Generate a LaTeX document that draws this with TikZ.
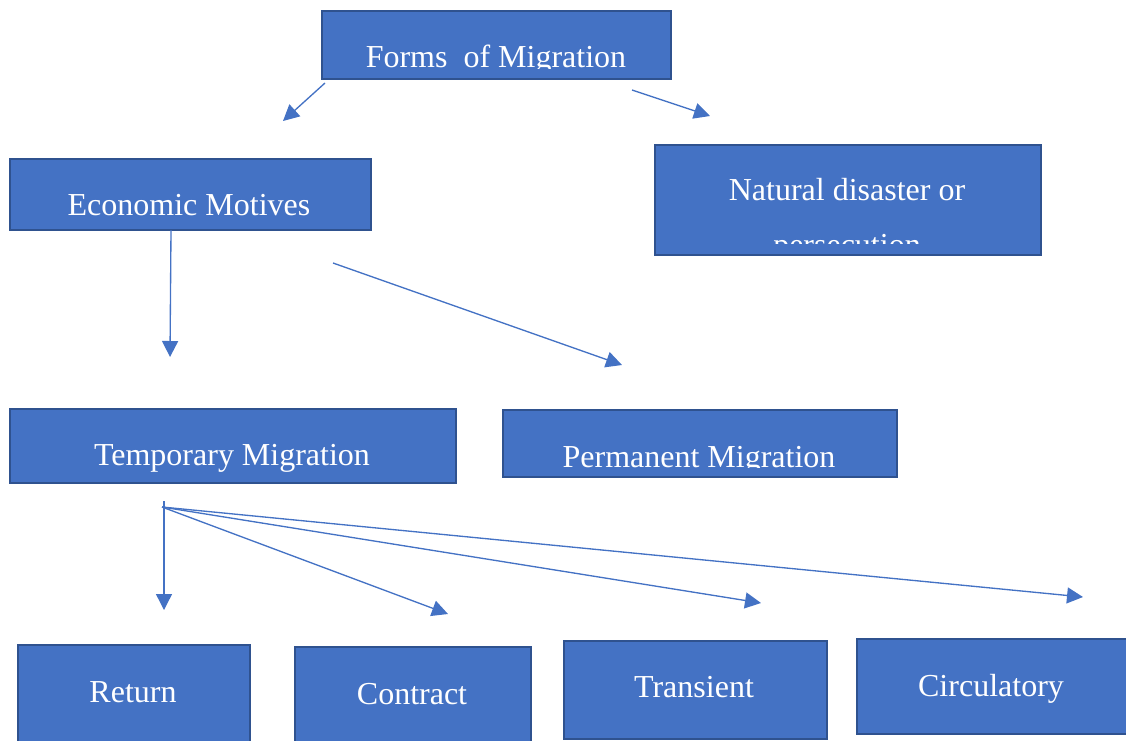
\documentclass[tikz,border=0pt]{standalone}
\usepackage{fontspec}
\setmainfont{Liberation Serif}
\usetikzlibrary{arrows.meta}
\definecolor{boxblue}{HTML}{4472C4}
\definecolor{boxborder}{HTML}{2F528F}
\definecolor{arrowblue}{HTML}{4472C4}
\tikzset{
  box/.style={rectangle, fill=boxblue, draw=boxborder, line width=1.5pt, inner sep=0pt, anchor=north west},
  lbl/.style={text=white, font=\fontsize{24}{28}\selectfont, inner sep=0pt, anchor=base},
  conn/.style={draw=arrowblue, line width=1pt, -{Triangle[length=12pt,width=12pt]}}
}
\begin{document}
\begin{tikzpicture}[x=0.75pt,y=-0.75pt]
\useasboundingbox (0,0) rectangle (1126,740);
% boxes
\node[box, minimum width=261.75pt, minimum height=51pt] (forms) at (321,10) {};
\node[box, minimum width=270.75pt, minimum height=53.25pt] (econ) at (9,158) {};
\node[box, minimum width=289.5pt, minimum height=82.5pt] (natural) at (654,144) {};
\node[box, minimum width=334.5pt, minimum height=55.5pt] (temp) at (9,408) {};
\node[box, minimum width=295.5pt, minimum height=50.25pt] (perm) at (502,409) {};
\node[box, minimum width=174pt, minimum height=75pt] (return) at (17,644) {};
\node[box, minimum width=177pt, minimum height=75pt] (contract) at (294,646) {};
\node[box, minimum width=197.25pt, minimum height=73.5pt] (transient) at (563,640) {};
\node[box, minimum width=204pt, minimum height=71.25pt] (circ) at (856,638) {};
% texts
\begin{scope}
\clip (322,11) rectangle (669,68);
\node[lbl] (formsT) at (496,67) {Forms\ \ of Migration};
\end{scope}
\node[lbl] (econT) at (189,215) {Economic Motives};
\node[lbl] (naturalT1) at (847,200) {Natural disaster or};
\begin{scope}
\clip (655,145) rectangle (1039,243);
\node[lbl] (naturalT2) at (847,255) {persecution};
\end{scope}
\node[lbl] (tempT) at (232,465) {Temporary Migration};
\begin{scope}
\clip (503,410) rectangle (895,467);
\node[lbl] (permT) at (699,467) {Permanent Migration};
\end{scope}
\node[lbl] (returnT) at (133,702) {Return};
\node[lbl] (contractT) at (412,704) {Contract};
\node[lbl] (transientT) at (694,697) {Transient};
\node[lbl] (circT) at (991,696) {Circulatory};
% connector end points
\coordinate (a1s) at (325,83);  \coordinate (a1e) at (283,121);
\coordinate (a2s) at (632,90);  \coordinate (a2e) at (710,116);
\coordinate (a3s) at (171,230); \coordinate (a3e) at (170,357);
\coordinate (a4s) at (333,263); \coordinate (a4e) at (622,365);
\coordinate (a5s) at (164,501); \coordinate (a5e) at (164,610);
\coordinate (fan) at (162,507);
\coordinate (a6e) at (448,614);
\coordinate (a7e) at (761,603);
\coordinate (a8e) at (1083,597);
% connectors
\draw[conn] (a1s) -- (a1e);
\draw[conn] (a2s) -- (a2e);
\draw[conn] (a3s) -- (a3e);
\draw[conn] (a4s) -- (a4e);
\draw[conn] (a5s) -- (a5e);
\draw[conn] (fan) -- (a6e);
\draw[conn] (fan) -- (a7e);
\draw[conn] (fan) -- (a8e);
\end{tikzpicture}
\end{document}
